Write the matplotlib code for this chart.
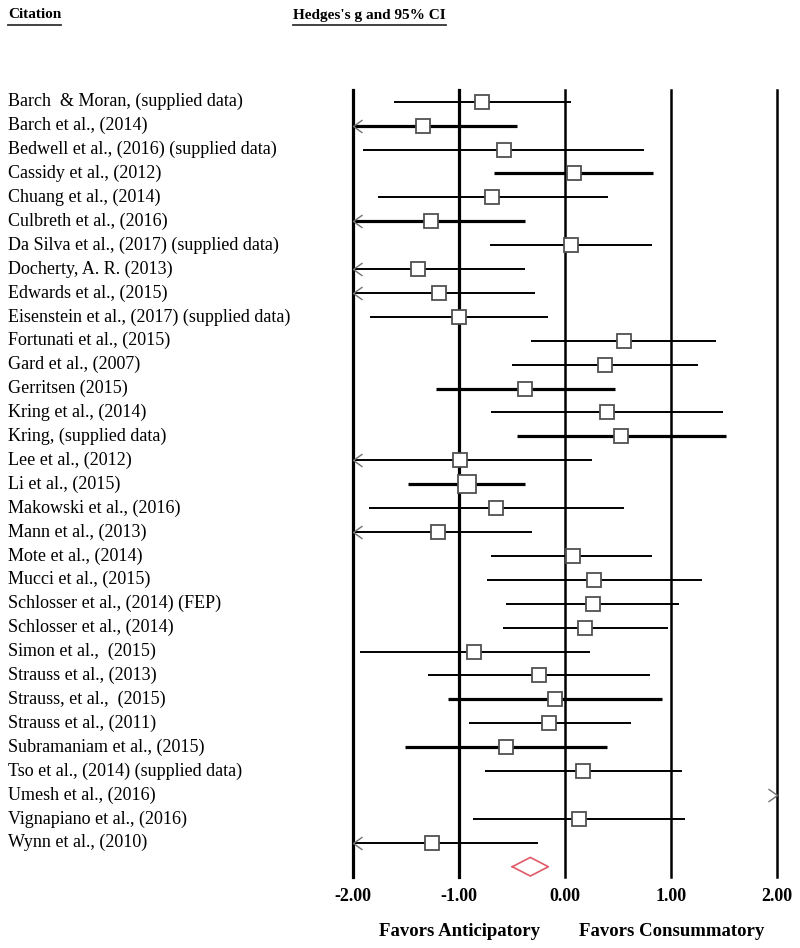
import matplotlib.pyplot as plt
from matplotlib.path import Path
from matplotlib.lines import Line2D
from matplotlib.transforms import blended_transform_factory

plt.rcParams['font.family'] = ['Liberation Serif', 'DejaVu Serif']

# study data (Hedges's g with 95% CI)
studies = [
    "Barch  & Moran, (supplied data)", "Barch et al., (2014)",
    "Bedwell et al., (2016) (supplied data)", "Cassidy et al., (2012)",
    "Chuang et al., (2014)", "Culbreth et al., (2016)",
    "Da Silva et al., (2017) (supplied data)", "Docherty, A. R. (2013)",
    "Edwards et al., (2015)", "Eisenstein et al., (2017) (supplied data)",
    "Fortunati et al., (2015)", "Gard et al., (2007)", "Gerritsen (2015)",
    "Kring et al., (2014)", "Kring, (supplied data)", "Lee et al., (2012)",
    "Li et al., (2015)", "Makowski et al., (2016)", "Mann et al., (2013)",
    "Mote et al., (2014)", "Mucci et al., (2015)",
    "Schlosser et al., (2014) (FEP)", "Schlosser et al., (2014)",
    "Simon et al.,  (2015)", "Strauss et al., (2013)",
    "Strauss, et al.,  (2015)", "Strauss et al., (2011)",
    "Subramaniam et al., (2015)", "Tso et al., (2014) (supplied data)",
    "Umesh et al., (2016)", "Vignapiano et al., (2016)", "Wynn et al., (2010)",
]
hedges_g = [-0.79, -1.34, -0.58, 0.08, -0.69, -1.27, 0.05, -1.39, -1.19, -1.00,
            0.55, 0.37, -0.38, 0.39, 0.53, -0.99, -0.93, -0.65, -1.20, 0.07,
            0.27, 0.26, 0.19, -0.86, -0.25, -0.10, -0.15, -0.56, 0.17, 2.60,
            0.13, -1.26]
lower = [-1.62, -2.22, -1.91, -0.67, -1.77, -2.16, -0.71, -2.40, -2.09, -1.84,
         -0.32, -0.50, -1.22, -0.70, -0.46, -2.23, -1.48, -1.85, -2.09, -0.70,
         -0.74, -0.56, -0.59, -1.94, -1.30, -1.11, -0.91, -1.51, -0.76, 2.10,
         -0.87, -2.26]
upper = [0.05, -0.46, 0.74, 0.83, 0.40, -0.38, 0.82, -0.38, -0.29, -0.16,
         1.42, 1.25, 0.47, 1.49, 1.52, 0.25, -0.38, 0.55, -0.31, 0.82,
         1.29, 1.07, 0.97, 0.23, 0.80, 0.91, 0.62, 0.39, 1.10, 3.10,
         1.13, -0.26]
# relative study weight (square size)
weight = [1.0] * len(studies)
weight[3] = 1.08
weight[16] = 1.4
heavy = ["Barch et al., (2014)", "Cassidy et al., (2012)", "Culbreth et al., (2016)",
         "Gerritsen (2015)", "Kring, (supplied data)", "Li et al., (2015)",
         "Strauss, et al.,  (2015)", "Subramaniam et al., (2015)"]

summary_g, summary_lo, summary_hi = -0.33, -0.50, -0.16

ticks = [-2, -1, 0, 1, 2]
tick_labels = ["-2.00", "-1.00", "0.00", "1.00", "2.00"]

fig = plt.figure(figsize=(8, 9.48), dpi=100)
ax = fig.add_axes([353.3 / 800, 1 - 877 / 948, 424 / 800, 787 / 948])
ax.set_xlim(-2, 2)
ax.set_ylim(32.43, -0.49)
for s in ax.spines.values():
    s.set_visible(False)
ax.set_yticks([])
ax.set_xticks(ticks)
ax.set_xticklabels(tick_labels, fontsize=13, fontweight='bold')
ax.tick_params(axis='x', length=0, pad=8)

for v in ticks:
    ax.axvline(v, color='black', lw=2.3 if v < 0 else 1.8, zorder=1, clip_on=False)

left_head = Path([(1.4, 1), (0, 0), (1.4, -1)], [Path.MOVETO, Path.LINETO, Path.LINETO])
right_head = Path([(-1.4, 1), (0, 0), (-1.4, -1)], [Path.MOVETO, Path.LINETO, Path.LINETO])

trans = blended_transform_factory(fig.transFigure, ax.transData)
for i, name in enumerate(studies):
    ax.text(0.01, i, name, transform=trans, fontsize=13, va='center', ha='left')
    lo, hi, g = lower[i], upper[i], hedges_g[i]
    lw = 2.3 if name in heavy else 1.4
    if lo > 2:
        ax.plot([2], [i], marker=right_head, ms=13, mfc='none', mec='#707070',
                mew=1.0, ls='none', zorder=3, clip_on=False)
        continue
    ax.plot([max(lo, -2), min(hi, 2)], [i, i], color='black', lw=lw, zorder=2,
            solid_capstyle='butt')
    if lo < -2:
        ax.plot([-2], [i], marker=left_head, ms=13, mfc='none', mec='#707070',
                mew=1.0, ls='none', zorder=3, clip_on=False)
    ax.plot([g], [i], marker='s', ms=9.6 * weight[i], mfc='white', mec='#505050',
            mew=1.3, ls='none', zorder=4)

# summary diamond
yd = len(studies)
h = 0.39
ax.plot([summary_lo, summary_g, summary_hi, summary_g, summary_lo],
        [yd, yd - h, yd, yd + h, yd], color='#e05a68', lw=1.2, zorder=4)

# bottom labels
tb = blended_transform_factory(ax.transData, fig.transFigure)
ax.text(-1, 1 - 932 / 948, "Favors Anticipatory", transform=tb, ha='center',
        va='center', fontsize=13.5, fontweight='bold')
ax.text(1, 1 - 932 / 948, "Favors Consummatory", transform=tb, ha='center',
        va='center', fontsize=13.5, fontweight='bold')

# headers with underline
h1 = fig.text(8 / 800, 1 - 15 / 948, "Citation", fontsize=11, fontweight='bold',
              ha='left', va='center')
h2 = fig.text(369.5 / 800, 1 - 15 / 948, "Hedges's g and 95% CI", fontsize=11,
              fontweight='bold', ha='center', va='center')
fig.canvas.draw()
r = fig.canvas.get_renderer()
for t in (h1, h2):
    bb = t.get_window_extent(r)
    yline = 1 - 25 / 948
    fig.add_artist(Line2D([bb.x0 / 800, bb.x1 / 800], [yline, yline],
                          transform=fig.transFigure, color='#333333', lw=1.3))

fig.savefig("out.png", dpi=100)
